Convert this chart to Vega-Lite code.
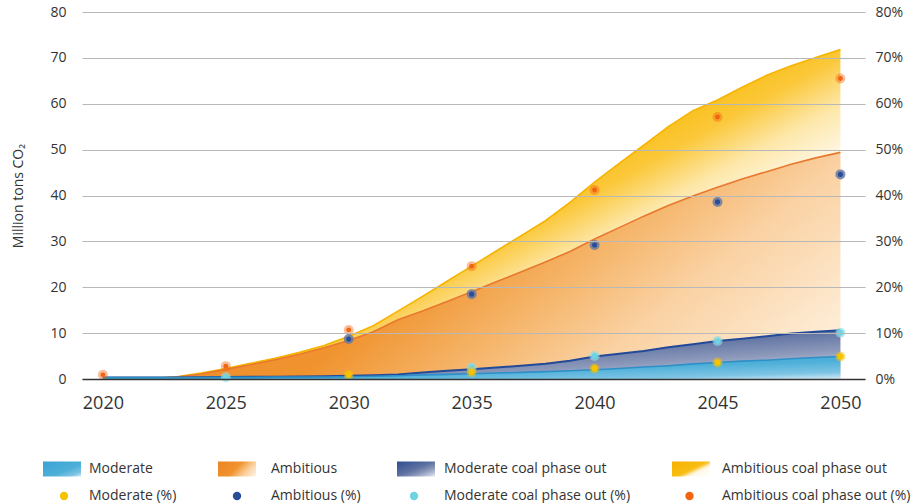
{
  "$schema": "https://vega.github.io/schema/vega-lite/v6.json",
  "width": 783,
  "height": 367,
  "autosize": {"type": "none"},
  "padding": {"left": 82, "top": 12, "right": 55, "bottom": 124},
  "background": "white",
  "config": {
    "font": "Open Sans",
    "view": {"stroke": null},
    "legend": {"labelFont": "Open Sans", "labelFontSize": 14, "labelColor": "#333333", "labelLimit": 400, "padding": 0, "symbolStrokeWidth": 0, "titlePadding": 0, "symbolOpacity": 1}
  },
  "datasets": {
    "areas": [
      {"series": "Moderate", "year": 2020, "value": 0.3}, {"series": "Moderate", "year": 2021, "value": 0.3}, {"series": "Moderate", "year": 2022, "value": 0.3}, {"series": "Moderate", "year": 2023, "value": 0.3}, {"series": "Moderate", "year": 2024, "value": 0.3}, {"series": "Moderate", "year": 2025, "value": 0.35}, {"series": "Moderate", "year": 2026, "value": 0.35}, {"series": "Moderate", "year": 2027, "value": 0.4}, {"series": "Moderate", "year": 2028, "value": 0.4}, {"series": "Moderate", "year": 2029, "value": 0.45}, {"series": "Moderate", "year": 2030, "value": 0.5}, {"series": "Moderate", "year": 2031, "value": 0.6}, {"series": "Moderate", "year": 2032, "value": 0.7}, {"series": "Moderate", "year": 2033, "value": 0.9}, {"series": "Moderate", "year": 2034, "value": 1.0}, {"series": "Moderate", "year": 2035, "value": 1.15}, {"series": "Moderate", "year": 2036, "value": 1.3}, {"series": "Moderate", "year": 2037, "value": 1.45}, {"series": "Moderate", "year": 2038, "value": 1.6}, {"series": "Moderate", "year": 2039, "value": 1.8}, {"series": "Moderate", "year": 2040, "value": 2.0}, {"series": "Moderate", "year": 2041, "value": 2.3}, {"series": "Moderate", "year": 2042, "value": 2.6}, {"series": "Moderate", "year": 2043, "value": 2.9}, {"series": "Moderate", "year": 2044, "value": 3.3}, {"series": "Moderate", "year": 2045, "value": 3.6}, {"series": "Moderate", "year": 2046, "value": 3.9}, {"series": "Moderate", "year": 2047, "value": 4.1}, {"series": "Moderate", "year": 2048, "value": 4.4}, {"series": "Moderate", "year": 2049, "value": 4.7}, {"series": "Moderate", "year": 2050, "value": 4.9},
      {"series": "Moderate coal phase out", "year": 2020, "value": 0.3}, {"series": "Moderate coal phase out", "year": 2021, "value": 0.35}, {"series": "Moderate coal phase out", "year": 2022, "value": 0.35}, {"series": "Moderate coal phase out", "year": 2023, "value": 0.35}, {"series": "Moderate coal phase out", "year": 2024, "value": 0.4}, {"series": "Moderate coal phase out", "year": 2025, "value": 0.45}, {"series": "Moderate coal phase out", "year": 2026, "value": 0.5}, {"series": "Moderate coal phase out", "year": 2027, "value": 0.5}, {"series": "Moderate coal phase out", "year": 2028, "value": 0.55}, {"series": "Moderate coal phase out", "year": 2029, "value": 0.6}, {"series": "Moderate coal phase out", "year": 2030, "value": 0.7}, {"series": "Moderate coal phase out", "year": 2031, "value": 0.8}, {"series": "Moderate coal phase out", "year": 2032, "value": 1.0}, {"series": "Moderate coal phase out", "year": 2033, "value": 1.4}, {"series": "Moderate coal phase out", "year": 2034, "value": 1.8}, {"series": "Moderate coal phase out", "year": 2035, "value": 2.1}, {"series": "Moderate coal phase out", "year": 2036, "value": 2.5}, {"series": "Moderate coal phase out", "year": 2037, "value": 2.9}, {"series": "Moderate coal phase out", "year": 2038, "value": 3.3}, {"series": "Moderate coal phase out", "year": 2039, "value": 4.0}, {"series": "Moderate coal phase out", "year": 2040, "value": 4.9}, {"series": "Moderate coal phase out", "year": 2041, "value": 5.5}, {"series": "Moderate coal phase out", "year": 2042, "value": 6.1}, {"series": "Moderate coal phase out", "year": 2043, "value": 6.9}, {"series": "Moderate coal phase out", "year": 2044, "value": 7.6}, {"series": "Moderate coal phase out", "year": 2045, "value": 8.3}, {"series": "Moderate coal phase out", "year": 2046, "value": 8.8}, {"series": "Moderate coal phase out", "year": 2047, "value": 9.3}, {"series": "Moderate coal phase out", "year": 2048, "value": 9.9}, {"series": "Moderate coal phase out", "year": 2049, "value": 10.3}, {"series": "Moderate coal phase out", "year": 2050, "value": 10.6},
      {"series": "Ambitious", "year": 2020, "value": 0}, {"series": "Ambitious", "year": 2021, "value": 0.05}, {"series": "Ambitious", "year": 2022, "value": 0.1}, {"series": "Ambitious", "year": 2023, "value": 0.4}, {"series": "Ambitious", "year": 2024, "value": 1.1}, {"series": "Ambitious", "year": 2025, "value": 2.1}, {"series": "Ambitious", "year": 2026, "value": 3.1}, {"series": "Ambitious", "year": 2027, "value": 4.2}, {"series": "Ambitious", "year": 2028, "value": 5.4}, {"series": "Ambitious", "year": 2029, "value": 6.8}, {"series": "Ambitious", "year": 2030, "value": 8.4}, {"series": "Ambitious", "year": 2031, "value": 10.3}, {"series": "Ambitious", "year": 2032, "value": 12.9}, {"series": "Ambitious", "year": 2033, "value": 14.8}, {"series": "Ambitious", "year": 2034, "value": 16.9}, {"series": "Ambitious", "year": 2035, "value": 19.0}, {"series": "Ambitious", "year": 2036, "value": 21.2}, {"series": "Ambitious", "year": 2037, "value": 23.3}, {"series": "Ambitious", "year": 2038, "value": 25.5}, {"series": "Ambitious", "year": 2039, "value": 27.8}, {"series": "Ambitious", "year": 2040, "value": 30.5}, {"series": "Ambitious", "year": 2041, "value": 33.0}, {"series": "Ambitious", "year": 2042, "value": 35.5}, {"series": "Ambitious", "year": 2043, "value": 37.8}, {"series": "Ambitious", "year": 2044, "value": 39.9}, {"series": "Ambitious", "year": 2045, "value": 41.8}, {"series": "Ambitious", "year": 2046, "value": 43.6}, {"series": "Ambitious", "year": 2047, "value": 45.2}, {"series": "Ambitious", "year": 2048, "value": 46.8}, {"series": "Ambitious", "year": 2049, "value": 48.2}, {"series": "Ambitious", "year": 2050, "value": 49.4},
      {"series": "Ambitious coal phase out", "year": 2020, "value": 0}, {"series": "Ambitious coal phase out", "year": 2021, "value": 0.05}, {"series": "Ambitious coal phase out", "year": 2022, "value": 0.1}, {"series": "Ambitious coal phase out", "year": 2023, "value": 0.5}, {"series": "Ambitious coal phase out", "year": 2024, "value": 1.3}, {"series": "Ambitious coal phase out", "year": 2025, "value": 2.3}, {"series": "Ambitious coal phase out", "year": 2026, "value": 3.4}, {"series": "Ambitious coal phase out", "year": 2027, "value": 4.5}, {"series": "Ambitious coal phase out", "year": 2028, "value": 5.8}, {"series": "Ambitious coal phase out", "year": 2029, "value": 7.3}, {"series": "Ambitious coal phase out", "year": 2030, "value": 9.3}, {"series": "Ambitious coal phase out", "year": 2031, "value": 11.6}, {"series": "Ambitious coal phase out", "year": 2032, "value": 14.8}, {"series": "Ambitious coal phase out", "year": 2033, "value": 18.0}, {"series": "Ambitious coal phase out", "year": 2034, "value": 21.3}, {"series": "Ambitious coal phase out", "year": 2035, "value": 24.6}, {"series": "Ambitious coal phase out", "year": 2036, "value": 27.9}, {"series": "Ambitious coal phase out", "year": 2037, "value": 31.2}, {"series": "Ambitious coal phase out", "year": 2038, "value": 34.5}, {"series": "Ambitious coal phase out", "year": 2039, "value": 38.5}, {"series": "Ambitious coal phase out", "year": 2040, "value": 42.9}, {"series": "Ambitious coal phase out", "year": 2041, "value": 47.0}, {"series": "Ambitious coal phase out", "year": 2042, "value": 51.0}, {"series": "Ambitious coal phase out", "year": 2043, "value": 55.0}, {"series": "Ambitious coal phase out", "year": 2044, "value": 58.5}, {"series": "Ambitious coal phase out", "year": 2045, "value": 60.8}, {"series": "Ambitious coal phase out", "year": 2046, "value": 63.6}, {"series": "Ambitious coal phase out", "year": 2047, "value": 66.2}, {"series": "Ambitious coal phase out", "year": 2048, "value": 68.3}, {"series": "Ambitious coal phase out", "year": 2049, "value": 70.1}, {"series": "Ambitious coal phase out", "year": 2050, "value": 71.8}
    ],
    "pts": [
      {"series": "Moderate (%)", "year": 2030, "value": 0.9}, {"series": "Moderate (%)", "year": 2035, "value": 1.5}, {"series": "Moderate (%)", "year": 2040, "value": 2.3}, {"series": "Moderate (%)", "year": 2045, "value": 3.6}, {"series": "Moderate (%)", "year": 2050, "value": 4.9},
      {"series": "Ambitious (%)", "year": 2030, "value": 8.7}, {"series": "Ambitious (%)", "year": 2035, "value": 18.5}, {"series": "Ambitious (%)", "year": 2040, "value": 29.2}, {"series": "Ambitious (%)", "year": 2045, "value": 38.6}, {"series": "Ambitious (%)", "year": 2050, "value": 44.6},
      {"series": "Moderate coal phase out (%)", "year": 2025, "value": 0.4}, {"series": "Moderate coal phase out (%)", "year": 2035, "value": 2.5}, {"series": "Moderate coal phase out (%)", "year": 2040, "value": 5.0}, {"series": "Moderate coal phase out (%)", "year": 2045, "value": 8.3}, {"series": "Moderate coal phase out (%)", "year": 2050, "value": 10.1},
      {"series": "Ambitious coal phase out (%)", "year": 2020, "value": 0.9}, {"series": "Ambitious coal phase out (%)", "year": 2025, "value": 2.8}, {"series": "Ambitious coal phase out (%)", "year": 2030, "value": 10.7}, {"series": "Ambitious coal phase out (%)", "year": 2035, "value": 24.6}, {"series": "Ambitious coal phase out (%)", "year": 2040, "value": 41.2}, {"series": "Ambitious coal phase out (%)", "year": 2045, "value": 57.1}, {"series": "Ambitious coal phase out (%)", "year": 2050, "value": 65.5}
    ]
  },
  "encoding": {
    "x": {"field": "year", "type": "quantitative",
      "scale": {"domain": [2019.15, 2051.0], "nice": false, "zero": false},
      "axis": {"values": [2020, 2025, 2030, 2035, 2040, 2045, 2050], "format": "d", "title": null, "grid": false, "ticks": false, "domain": true, "domainColor": "#333333", "domainWidth": 1.5, "labelFontSize": 18, "labelColor": "#333333", "labelPadding": 15, "labelFlush": false, "zindex": 1}}
  },
  "layer": [
    {
      "encoding": {
        "y": {"field": "value", "type": "quantitative", "stack": null,
          "scale": {"domain": [0, 80], "nice": false, "zero": true},
          "axis": {"values": [0, 10, 20, 30, 40, 50, 60, 70, 80], "title": "Million tons CO₂", "titleFontSize": 14, "titleFontWeight": "normal", "titleColor": "#333333", "titlePadding": 24, "grid": true, "gridColor": "#b8b8b8", "gridWidth": 1, "domain": false, "ticks": false, "labelFontSize": 14, "labelColor": "#333333", "labelPadding": 16, "zindex": 1}}
      },
      "layer": [
        {
          "data": {"name": "areas"},
          "transform": [{"filter": "datum.series === 'Ambitious coal phase out'"}],
          "mark": {"type": "area", "opacity": 1, "strokeWidth": 0, "fill": {"gradient": "linear", "x1": 0, "y1": 0, "x2": 1.09, "y2": 0.88, "stops": [{"offset": 0, "color": "#f5b000"}, {"offset": 0.5, "color": "#f8bd12"}, {"offset": 0.565, "color": "#fbc83a"}, {"offset": 0.63, "color": "#fde7a8"}, {"offset": 0.7, "color": "#fff8e8"}, {"offset": 1, "color": "#ffffff"}]}},
          "encoding": {
            "stroke": {"field": "series", "type": "nominal",
              "scale": {"domain": ["Ambitious coal phase out"], "range": ["#f6b400"]},
              "legend": {"title": null, "orient": "none", "legendX": 590, "legendY": 438, "symbolType": "M-1,-0.39H1V0.39H-1Z", "symbolSize": 1444, "labelOffset": 12}}
          }
        },
        {
          "data": {"name": "areas"},
          "transform": [{"filter": "datum.series === 'Ambitious coal phase out'"}],
          "mark": {"type": "line", "color": "#f6b400", "strokeWidth": 1.6},
          "encoding": {}
        },
        {
          "data": {"name": "areas"},
          "transform": [{"filter": "datum.series === 'Ambitious'"}],
          "mark": {"type": "area", "opacity": 1, "strokeWidth": 0, "fill": {"gradient": "linear", "x1": 0, "y1": 0, "x2": 1.217, "y2": 0.456, "stops": [{"offset": 0, "color": "#ec8424"}, {"offset": 0.46, "color": "#f0932f"}, {"offset": 0.6, "color": "#f5b468"}, {"offset": 0.73, "color": "#fad1a2"}, {"offset": 1, "color": "#fff7ea"}]}},
          "encoding": {
            "stroke": {"field": "series", "type": "nominal",
              "scale": {"domain": ["Ambitious"], "range": ["#e8782e"]},
              "legend": {"title": null, "orient": "none", "legendX": 136, "legendY": 438, "symbolType": "M-1,-0.39H1V0.39H-1Z", "symbolSize": 1444, "labelOffset": 15}}
          }
        },
        {
          "data": {"name": "areas"},
          "transform": [{"filter": "datum.series === 'Ambitious'"}],
          "mark": {"type": "line", "color": "#e8782e", "strokeWidth": 1.6},
          "encoding": {}
        },
        {
          "data": {"name": "areas"},
          "transform": [{"filter": "datum.series === 'Moderate coal phase out'"}],
          "mark": {"type": "area", "opacity": 1, "strokeWidth": 0, "fill": {"gradient": "linear", "x1": 0, "y1": 0, "x2": 1, "y2": 1, "stops": [{"offset": 0, "color": "#2f4d8f"}, {"offset": 0.5, "color": "#5f72a2"}, {"offset": 0.7, "color": "#8b98ba"}, {"offset": 0.9, "color": "#c6cce0"}, {"offset": 1, "color": "#e8ebf3"}]}},
          "encoding": {
            "stroke": {"field": "series", "type": "nominal",
              "scale": {"domain": ["Moderate coal phase out"], "range": ["#234a98"]},
              "legend": {"title": null, "orient": "none", "legendX": 315, "legendY": 438, "symbolType": "M-1,-0.39H1V0.39H-1Z", "symbolSize": 1444, "labelOffset": 9}}
          }
        },
        {
          "data": {"name": "areas"},
          "transform": [{"filter": "datum.series === 'Moderate coal phase out'"}],
          "mark": {"type": "line", "color": "#234a98", "strokeWidth": 2},
          "encoding": {}
        },
        {
          "data": {"name": "areas"},
          "transform": [{"filter": "datum.series === 'Moderate'"}],
          "mark": {"type": "area", "opacity": 1, "strokeWidth": 0, "fill": {"gradient": "linear", "x1": 0, "y1": 0, "x2": 1, "y2": 1, "stops": [{"offset": 0, "color": "#3aa2d2"}, {"offset": 0.6, "color": "#4eb0d9"}, {"offset": 0.85, "color": "#7fc4e4"}, {"offset": 1, "color": "#d5ebf6"}]}},
          "encoding": {
            "stroke": {"field": "series", "type": "nominal",
              "scale": {"domain": ["Moderate"], "range": ["#2f8fc7"]},
              "legend": {"title": null, "orient": "none", "legendX": -39, "legendY": 438, "symbolType": "M-1,-0.39H1V0.39H-1Z", "symbolSize": 1444, "labelOffset": 8}}
          }
        },
        {
          "data": {"name": "areas"},
          "transform": [{"filter": "datum.series === 'Moderate'"}],
          "mark": {"type": "line", "color": "#2f8fc7", "strokeWidth": 1.6},
          "encoding": {}
        }
      ],
      "resolve": {"scale": {"stroke": "independent"}}
    },
    {
      "encoding": {
        "y": {"field": "value", "type": "quantitative",
          "scale": {"domain": [0, 80], "nice": false, "zero": true},
          "axis": {"orient": "right", "values": [0, 10, 20, 30, 40, 50, 60, 70, 80], "labelExpr": "datum.value + '%'", "title": null, "grid": false, "domain": false, "ticks": false, "labelFontSize": 14, "labelColor": "#333333", "labelPadding": 10}}
      },
      "layer": [
        {
          "data": {"name": "pts"},
          "transform": [{"filter": "datum.series === 'Ambitious coal phase out (%)'"}],
          "mark": {"type": "circle", "size": 100, "color": "#f26412", "opacity": 0.42},
          "encoding": {}
        },
        {
          "data": {"name": "pts"},
          "transform": [{"filter": "datum.series === 'Ambitious coal phase out (%)'"}],
          "mark": {"type": "circle", "size": 24, "opacity": 1},
          "encoding": {
            "fill": {"field": "series", "type": "nominal",
              "scale": {"domain": ["Ambitious coal phase out (%)"], "range": ["#f26412"]},
              "legend": {"title": null, "orient": "none", "legendX": 600.5, "legendY": 477, "symbolType": "circle", "symbolSize": 70, "labelOffset": 25.5}}
          }
        },
        {
          "data": {"name": "pts"},
          "transform": [{"filter": "datum.series === 'Moderate coal phase out (%)'"}],
          "mark": {"type": "circle", "size": 100, "color": "#8ddbe6", "opacity": 0.65},
          "encoding": {}
        },
        {
          "data": {"name": "pts"},
          "transform": [{"filter": "datum.series === 'Moderate coal phase out (%)'"}],
          "mark": {"type": "circle", "size": 36, "opacity": 1},
          "encoding": {
            "fill": {"field": "series", "type": "nominal",
              "scale": {"domain": ["Moderate coal phase out (%)"], "range": ["#6fd3e2"]},
              "legend": {"title": null, "orient": "none", "legendX": 325, "legendY": 477, "symbolType": "circle", "symbolSize": 70, "labelOffset": 23}}
          }
        },
        {
          "data": {"name": "pts"},
          "transform": [{"filter": "datum.series === 'Ambitious (%)'"}],
          "mark": {"type": "circle", "size": 100, "color": "#6a7ba2", "opacity": 0.85},
          "encoding": {}
        },
        {
          "data": {"name": "pts"},
          "transform": [{"filter": "datum.series === 'Ambitious (%)'"}],
          "mark": {"type": "circle", "size": 26, "opacity": 1},
          "encoding": {
            "fill": {"field": "series", "type": "nominal",
              "scale": {"domain": ["Ambitious (%)"], "range": ["#2a4d98"]},
              "legend": {"title": null, "orient": "none", "legendX": 148, "legendY": 477, "symbolType": "circle", "symbolSize": 70, "labelOffset": 27}}
          }
        },
        {
          "data": {"name": "pts"},
          "transform": [{"filter": "datum.series === 'Moderate (%)'"}],
          "mark": {"type": "circle", "size": 100, "color": "#f7c300", "opacity": 0.5},
          "encoding": {}
        },
        {
          "data": {"name": "pts"},
          "transform": [{"filter": "datum.series === 'Moderate (%)'"}],
          "mark": {"type": "circle", "size": 38, "opacity": 1},
          "encoding": {
            "fill": {"field": "series", "type": "nominal",
              "scale": {"domain": ["Moderate (%)"], "range": ["#f7c300"]},
              "legend": {"title": null, "orient": "none", "legendX": -25, "legendY": 477, "symbolType": "circle", "symbolSize": 70, "labelOffset": 18}}
          }
        }
      ],
      "resolve": {"scale": {"fill": "independent"}}
    }
  ],
  "resolve": {"scale": {"y": "independent", "fill": "independent", "stroke": "independent"}}
}
